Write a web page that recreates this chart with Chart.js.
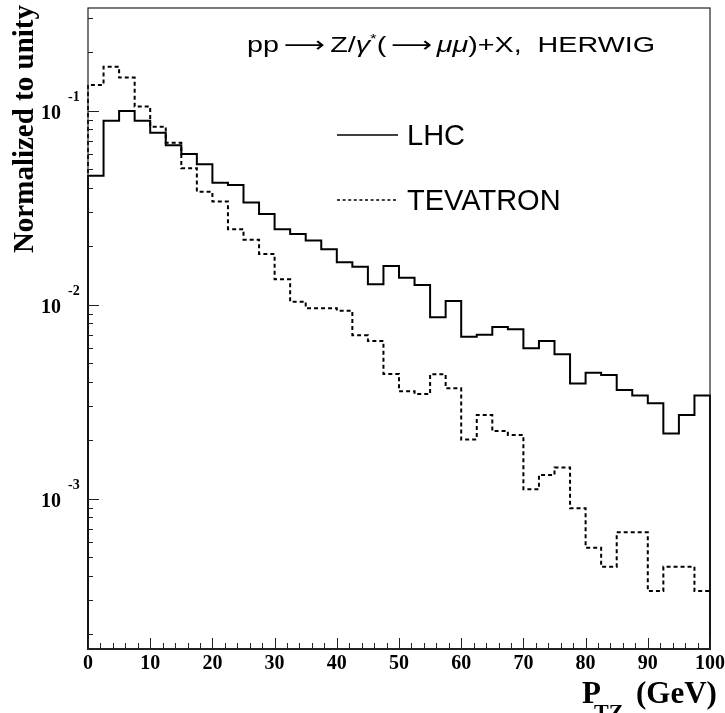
<!DOCTYPE html>
<html>
<head>
<meta charset="utf-8">
<title>PTZ distribution</title>
<script src="https://cdn.jsdelivr.net/npm/chart.js@4.4.1/dist/chart.umd.min.js"></script>
<style>
    html, body { margin: 0; padding: 0; background: #fff; }
    #wrap { width: 725px; height: 713px; }
</style>
</head>
<body>
<div id="wrap"><canvas id="ptz-chart" width="725" height="713"></canvas></div>
<script>
// bin edges in GeV (40 bins of 2.5 GeV)
const binEdges = [0, 2.5, 5, 7.5, 10, 12.5, 15, 17.5, 20, 22.5, 25, 27.5, 30, 32.5, 35, 37.5,
    40, 42.5, 45, 47.5, 50, 52.5, 55, 57.5, 60, 62.5, 65, 67.5, 70, 72.5, 75, 77.5,
    80, 82.5, 85, 87.5, 90, 92.5, 95, 97.5, 100];

const lhcValues = [0.0462, 0.0888, 0.0997, 0.0888, 0.0770, 0.0663, 0.0598, 0.0529, 0.0425, 0.0414,
    0.0336, 0.0293, 0.0245, 0.0231, 0.0214, 0.0193, 0.01655, 0.0157, 0.01273, 0.01583,
    0.01377, 0.01263, 0.00861, 0.01045, 0.00684, 0.0070, 0.00767, 0.00746, 0.00596, 0.0065,
    0.00555, 0.00392, 0.00446, 0.00434, 0.00363, 0.0034, 0.0031, 0.00217, 0.0027, 0.0034];

const tevatronValues = [0.1357, 0.1685, 0.148, 0.1049, 0.0827, 0.0684, 0.0505, 0.0382, 0.034, 0.0245,
    0.02163, 0.01825, 0.01351, 0.01036, 0.00958, 0.00958, 0.00931, 0.00696, 0.0065, 0.00439,
    0.00358, 0.00346, 0.00438, 0.00371, 0.00202, 0.0027, 0.00223, 0.00213, 0.001118, 0.001325,
    0.00145, 0.000892, 0.000559, 0.000446, 0.000671, 0.000671, 0.000334, 0.000446, 0.000446, 0.000334];

const seriesLabels = ['LHC', 'TEVATRON'];
const xTickValues = [0, 10, 20, 30, 40, 50, 60, 70, 80, 90, 100];
const yDecades = [1e-1, 1e-2, 1e-3];
const yExponents = ['-1', '-2', '-3'];
const yMin = 1.68e-4;
const yMax = 0.338;

// histogram outline: start at the floor, one point per bin low edge, close at the last edge
function histPoints(values) {
    const pts = [{ x: binEdges[0], y: yMin }];
    values.forEach((v, i) => pts.push({ x: binEdges[i], y: v }));
    const last = binEdges[values.length];
    pts.push({ x: last, y: values[values.length - 1] });
    pts.push({ x: last, y: yMin });
    return pts;
}

const serif = '"Liberation Serif", "Times New Roman", serif';
const sans = '"Liberation Sans", Arial, sans-serif';
const arrowFont = '22px "DejaVu Sans", sans-serif';

const rootStyle = {
    id: 'rootStyle',
    afterDraw(chart) {
        const ctx = chart.ctx;
        const area = chart.chartArea;
        const xs = chart.scales.x;
        const ys = chart.scales.y;
        ctx.save();

        // frame
        ctx.strokeStyle = '#222';
        ctx.lineWidth = 1.2;
        ctx.strokeRect(area.left, area.top, area.right - area.left, area.bottom - area.top);

        // x ticks (inside, minor every 2 GeV)
        ctx.lineWidth = 1;
        ctx.beginPath();
        for (let v = 0; v <= 100; v += 2) {
            const px = Math.round(xs.getPixelForValue(v)) + 0.5;
            const len = v % 10 === 0 ? 11 : 6;
            ctx.moveTo(px, area.bottom);
            ctx.lineTo(px, area.bottom - len);
        }
        // y ticks (inside, log minor ticks)
        for (let k = -4; k <= 0; k++) {
            for (let m = 1; m <= 9; m++) {
                const v = m * Math.pow(10, k);
                if (v < yMin || v > yMax) continue;
                const py = Math.round(ys.getPixelForValue(v)) + 0.5;
                const len = m === 1 ? 11 : 5;
                ctx.moveTo(area.left, py);
                ctx.lineTo(area.left + len, py);
            }
        }
        ctx.stroke();

        // bottom axis a bit heavier
        ctx.lineWidth = 2;
        ctx.beginPath();
        ctx.moveTo(area.left - 1, area.bottom);
        ctx.lineTo(area.right + 1, area.bottom);
        ctx.stroke();

        ctx.fillStyle = '#000';

        // x tick labels
        ctx.font = 'bold 20px ' + serif;
        ctx.textAlign = 'center';
        ctx.textBaseline = 'alphabetic';
        xTickValues.forEach(v => {
            ctx.fillText(String(v), xs.getPixelForValue(v), 669);
        });

        // y tick labels 10^k
        yDecades.forEach((d, i) => {
            const py = ys.getPixelForValue(d);
            ctx.font = 'bold 20px ' + serif;
            ctx.textAlign = 'right';
            ctx.fillText('10', 61, py + 8);
            ctx.font = 'bold 14px ' + serif;
            ctx.textAlign = 'left';
            ctx.fillText(yExponents[i], 68, py - 10);
        });

        // y axis title
        ctx.save();
        ctx.translate(33, 5);
        ctx.rotate(-Math.PI / 2);
        ctx.font = 'bold 29px ' + serif;
        ctx.textAlign = 'right';
        ctx.fillText('Normalized to unity', 0, 0);
        ctx.restore();

        // x axis title P_TZ (GeV)
        ctx.textAlign = 'left';
        ctx.font = 'bold 31px ' + serif;
        ctx.fillText('P', 582, 703);
        ctx.font = 'bold 22px ' + serif;
        ctx.fillText('TZ', 594, 719);
        ctx.font = 'bold 31px ' + serif;
        ctx.fillText('(GeV)', 636, 703);

        // process label, fitted between x=247 and x=655
        const pieces = [
            { t: 'pp', f: '22px ' + sans, dy: 0 },
            { t: ' ', f: '14px ' + sans, dy: 0 },
            { t: '\u27f6', f: arrowFont, dy: 0 },
            { t: ' ', f: '14px ' + sans, dy: 0 },
            { t: 'Z/', f: '22px ' + sans, dy: 0 },
            { t: '\u03b3', f: 'italic 22px ' + sans, dy: 0 },
            { t: '*', f: '13px ' + sans, dy: -9 },
            { t: '(', f: '22px ' + sans, dy: 0 },
            { t: ' ', f: '14px ' + sans, dy: 0 },
            { t: '\u27f6', f: arrowFont, dy: 0 },
            { t: ' ', f: '12px ' + sans, dy: 0 },
            { t: '\u03bc\u03bc', f: 'italic 22px ' + sans, dy: 0 },
            { t: ')+X,  HERWIG', f: '22px ' + sans, dy: 0 }
        ];
        let total = 0;
        pieces.forEach(p => { ctx.font = p.f; p.w = ctx.measureText(p.t).width; total += p.w; });
        const sx = (655 - 247) / total;
        ctx.save();
        ctx.translate(247, 52);
        ctx.scale(sx, 1);
        let cx = 0;
        pieces.forEach(p => { ctx.font = p.f; ctx.fillText(p.t, cx, p.dy); cx += p.w; });
        ctx.restore();

        // legend
        chart.data.datasets.forEach((ds, i) => {
            const ly = 135 + i * 65;
            ctx.save();
            ctx.strokeStyle = ds.borderColor;
            ctx.lineWidth = 1.6;
            ctx.setLineDash(ds.borderDash && ds.borderDash.length ? [3, 2.6] : []);
            ctx.beginPath();
            ctx.moveTo(337, ly);
            ctx.lineTo(398, ly);
            ctx.stroke();
            ctx.restore();
            ctx.font = '29px ' + sans;
            ctx.textAlign = 'left';
            ctx.fillText(ds.label, 407, ly + 10);
        });

        ctx.restore();
    }
};

const ctx = document.getElementById('ptz-chart').getContext('2d');
const ptzChart = new Chart(ctx, {
    type: 'line',
    data: {
        datasets: [{
            label: seriesLabels[0],
            data: histPoints(lhcValues),
            borderColor: '#000',
            borderWidth: 2,
            stepped: true,
            pointRadius: 0,
            fill: false,
            clip: false
        }, {
            label: seriesLabels[1],
            data: histPoints(tevatronValues),
            borderColor: '#000',
            borderWidth: 2,
            borderDash: [4, 3],
            stepped: true,
            pointRadius: 0,
            fill: false,
            clip: false
        }]
    },
    options: {
        responsive: false,
        animation: false,
        events: [],
        layout: { padding: { left: 88, right: 15, top: 8, bottom: 64 } },
        plugins: {
            legend: { display: false },
            tooltip: { enabled: false }
        },
        scales: {
            x: {
                type: 'linear',
                min: 0,
                max: 100,
                display: false
            },
            y: {
                type: 'logarithmic',
                min: yMin,
                max: yMax,
                display: false
            }
        }
    },
    plugins: [rootStyle]
});
</script>
</body>
</html>
